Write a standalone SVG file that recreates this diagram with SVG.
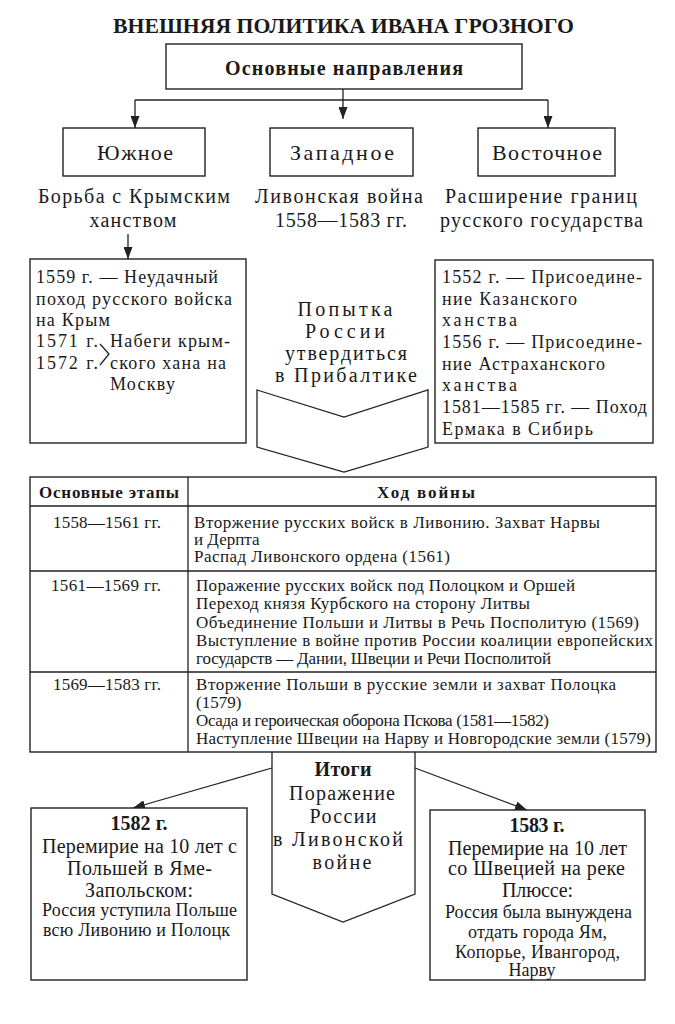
<svg xmlns="http://www.w3.org/2000/svg" width="675" height="1024" viewBox="0 0 675 1024">
<style>
.t{font-family:"Liberation Serif","Times New Roman",serif;fill:#1a1a1a}
.b{font-weight:bold}
.m{text-anchor:middle}
.box{fill:#fff;stroke:#222;stroke-width:1.4}
.ln{fill:none;stroke:#222;stroke-width:1.3}
.f22{font-size:22px}.f20{font-size:20px}.f19{font-size:19px}.f18{font-size:18px}.f17{font-size:17px}
</style>
<defs>
<marker id="ah" viewBox="0 0 12 9" refX="12" refY="4.5" markerWidth="12" markerHeight="9" orient="auto" markerUnits="userSpaceOnUse">
<path d="M0,0 L12,4.5 L0,9 z" fill="#222"/>
</marker>
</defs>
<rect width="675" height="1024" fill="#fff"/>

<g id="title">
<text class="t b m" x="343.5" y="33" font-size="21" textLength="461" lengthAdjust="spacingAndGlyphs">ВНЕШНЯЯ ПОЛИТИКА ИВАНА ГРОЗНОГО</text>
</g>

<g id="connectors">
<path class="ln" d="M343,89 V119" marker-end="url(#ah)"/>
<path class="ln" d="M135,100 H548"/>
<path class="ln" d="M135,100 V128" marker-end="url(#ah)"/>
<path class="ln" d="M548,100 V128" marker-end="url(#ah)"/>
<path class="ln" d="M128,234 V259" marker-end="url(#ah)"/>
<path class="ln" d="M272,768 L133,808" marker-end="url(#ah)"/>
<path class="ln" d="M415,768 L527,810" marker-end="url(#ah)"/>
</g>

<g id="node-main">
<rect class="box" x="166" y="44" width="356" height="45"/>
<text class="t b m f20" x="344" y="75" textLength="238">Основные направления</text>
</g>

<g id="node-south">
<rect class="box" x="63" y="128" width="142" height="48"/>
<text class="t m f22" x="135" y="160" textLength="76">Южное</text>
<text class="t m f20" x="134" y="203" textLength="192">Борьба с Крымским</text>
<text class="t m f20" x="133" y="227" textLength="87">ханством</text>
</g>

<g id="node-west">
<rect class="box" x="270" y="128" width="143" height="48"/>
<text class="t m f22" x="342" y="160" textLength="104">Западное</text>
<text class="t m f20" x="339" y="203" textLength="168">Ливонская война</text>
<text class="t m f20" x="341" y="227" textLength="132">1558—1583 гг.</text>
</g>

<g id="node-east">
<rect class="box" x="478" y="128" width="137" height="48"/>
<text class="t m f22" x="547" y="160" textLength="110">Восточное</text>
<text class="t m f20" x="541" y="203" textLength="192">Расширение границ</text>
<text class="t m f20" x="541.5" y="227" textLength="203">русского государства</text>
</g>

<g id="node-south-detail">
<rect class="box" x="30" y="259" width="216" height="184"/>
<text class="t f18" x="36" y="283" textLength="182">1559 г. — Неудачный</text>
<text class="t f18" x="36" y="305" textLength="196">поход русского войска</text>
<text class="t f18" x="36" y="326" textLength="74">на Крым</text>
<text class="t f18" x="36" y="347" textLength="62">1571 г.</text>
<text class="t f18" x="110" y="347" textLength="120">Набеги крым-</text>
<text class="t f18" x="36" y="369" textLength="62">1572 г.</text>
<text class="t f18" x="110" y="369" textLength="116">ского хана на</text>
<text class="t f18" x="110" y="390" textLength="65">Москву</text>
<polyline class="ln" points="100,344 109,354 100,365" stroke-width="1"/>
</g>

<g id="node-west-detail">
<text class="t m f20" x="345" y="316" textLength="95">Попытка</text>
<text class="t m f20" x="345" y="338" textLength="80">России</text>
<text class="t m f20" x="346" y="360" textLength="122">утвердиться</text>
<text class="t m f20" x="346" y="382" textLength="142">в Прибалтике</text>
<path class="ln" d="M257,390 L344,417 L428,390 V447 L344,472 L257,447 Z"/>
</g>

<g id="node-east-detail">
<rect class="box" x="435" y="260" width="218" height="183"/>
<text class="t f18" x="442" y="283" textLength="200">1552 г. — Присоедине-</text>
<text class="t f18" x="442" y="305" textLength="135">ние Казанского</text>
<text class="t f18" x="442" y="326" textLength="75">ханства</text>
<text class="t f18" x="442" y="348" textLength="200">1556 г. — Присоедине-</text>
<text class="t f18" x="442" y="370" textLength="163">ние Астраханского</text>
<text class="t f18" x="442" y="391" textLength="75">ханства</text>
<text class="t f18" x="442" y="413" textLength="205">1581—1585 гг. — Поход</text>
<text class="t f18" x="442" y="435" textLength="151">Ермака в Сибирь</text>
</g>

<g id="node-table">
<rect class="box" x="30" y="477" width="626" height="275"/>
<path class="ln" d="M188,477 V752 M30,506 H656 M30,571 H656 M30,672 H656"/>
<text class="t b m f17" x="109" y="498" textLength="140">Основные этапы</text>
<text class="t b m f17" x="426" y="498" textLength="98">Ход войны</text>
<text class="t m f17" x="107" y="528" textLength="108">1558—1561 гг.</text>
<text class="t f17" x="194" y="528" textLength="406">Вторжение русских войск в Ливонию. Захват Нарвы</text>
<text class="t f17" x="194" y="545">и Дерпта</text>
<text class="t f17" x="194" y="562" textLength="256">Распад Ливонского ордена (1561)</text>
<text class="t m f17" x="106" y="591" textLength="110">1561—1569 гг.</text>
<text class="t f17" x="196" y="591" textLength="379">Поражение русских войск под Полоцком и Оршей</text>
<text class="t f17" x="196" y="609" textLength="334">Переход князя Курбского на сторону Литвы</text>
<text class="t f17" x="196" y="628" textLength="443">Объединение Польши и Литвы в Речь Посполитую (1569)</text>
<text class="t f17" x="196" y="646" textLength="457">Выступление в войне против России коалиции европейских</text>
<text class="t f17" x="196" y="664" textLength="355">государств — Дании, Швеции и Речи Посполитой</text>
<text class="t m f17" x="107" y="690" textLength="108">1569—1583 гг.</text>
<text class="t f17" x="196" y="690" textLength="420">Вторжение Польши в русские земли и захват Полоцка</text>
<text class="t f17" x="196" y="708">(1579)</text>
<text class="t f17" x="196" y="726" textLength="353">Осада и героическая оборона Пскова (1581—1582)</text>
<text class="t f17" x="196" y="744" textLength="455">Наступление Швеции на Нарву и Новгородские земли (1579)</text>
</g>

<g id="node-results">
<path class="ln" d="M272,752 V894 L343,922 L415,894 V752"/>
<text class="t b m f20" x="343" y="776" textLength="57">Итоги</text>
<text class="t m f20" x="342" y="800" textLength="106">Поражение</text>
<text class="t m f20" x="343" y="823" textLength="67">России</text>
<text class="t m f20" x="338" y="846" textLength="130">в Ливонской</text>
<text class="t m f20" x="342" y="869" textLength="59">войне</text>
</g>

<g id="node-1582">
<rect class="box" x="31" y="808" width="216" height="172"/>
<text class="t b m f20" x="139" y="830" textLength="57">1582 г.</text>
<text class="t m f20" x="139.5" y="853" textLength="195">Перемирие на 10 лет с</text>
<text class="t m f20" x="139.5" y="875" textLength="145">Польшей в Яме-</text>
<text class="t m f20" x="139" y="897" textLength="108">Запольском:</text>
<text class="t m f18" x="139.5" y="916" textLength="195">Россия уступила Польше</text>
<text class="t m f18" x="136.5" y="936" textLength="187">всю Ливонию и Полоцк</text>
</g>

<g id="node-1583">
<rect class="box" x="430" y="810" width="215" height="170"/>
<text class="t b m f20" x="537" y="832" textLength="55">1583 г.</text>
<text class="t m f20" x="537.5" y="855" textLength="179">Перемирие на 10 лет</text>
<text class="t m f20" x="536.5" y="875" textLength="177">со Швецией на реке</text>
<text class="t m f20" x="537.5" y="897" textLength="71">Плюссе:</text>
<text class="t m f18" x="538.5" y="918" textLength="187">Россия была вынуждена</text>
<text class="t m f18" x="537.5" y="938" textLength="139">отдать города Ям,</text>
<text class="t m f18" x="537.5" y="958" textLength="165">Копорье, Ивангород,</text>
<text class="t m f18" x="532" y="976">Нарву</text>
</g>
</svg>
